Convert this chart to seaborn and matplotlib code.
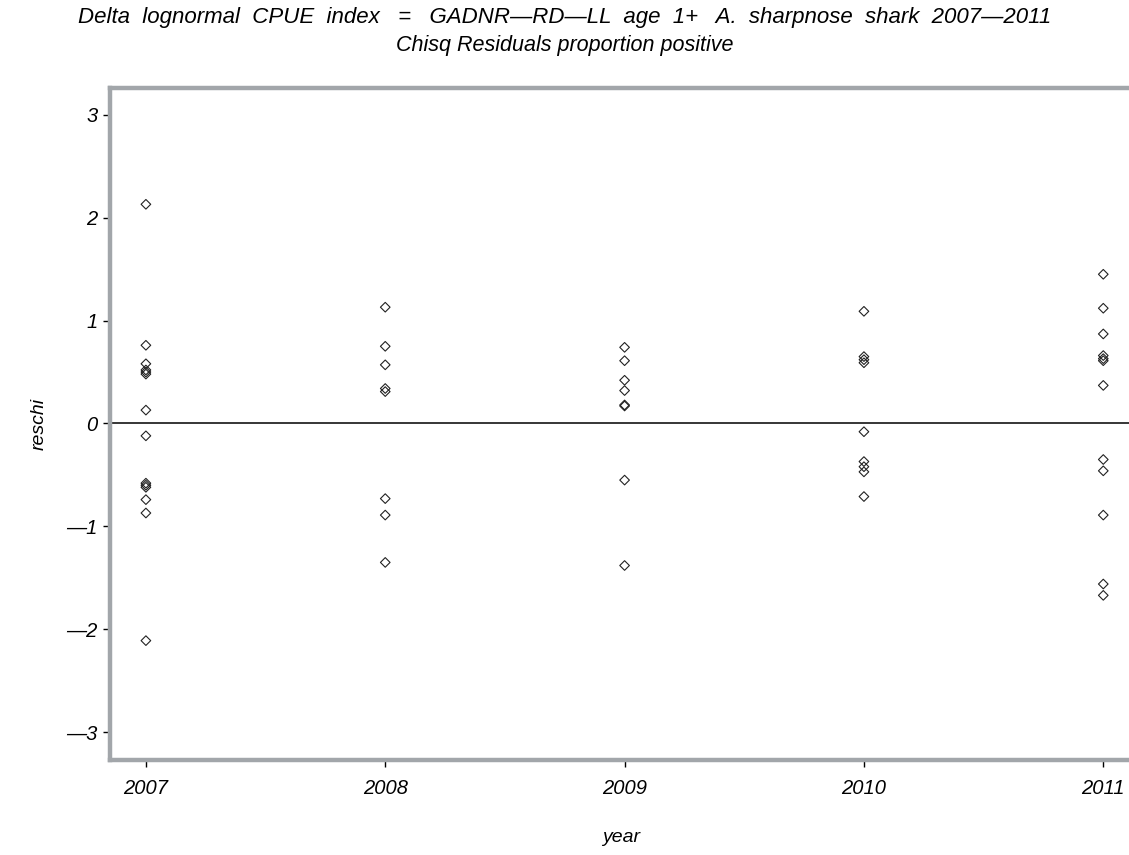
import numpy as np
import pandas as pd
import matplotlib
matplotlib.use("Agg")
import matplotlib.pyplot as plt
import seaborn as sns

years = [2007, 2008, 2009, 2010, 2011]
res_2007 = [2.13, 0.76, 0.58, 0.52, 0.50, 0.48, 0.13, -0.12, -0.58, -0.60, -0.62, -0.74, -0.87, -2.11]
res_2008 = [1.13, 0.75, 0.57, 0.34, 0.31, -0.73, -0.89, -1.35]
res_2009 = [0.74, 0.61, 0.42, 0.32, 0.18, 0.17, -0.55, -1.38]
res_2010 = [1.09, 0.65, 0.62, 0.59, -0.08, -0.37, -0.42, -0.47, -0.71]
res_2011 = [1.45, 1.12, 0.87, 0.66, 0.63, 0.61, 0.37, -0.35, -0.46, -0.89, -1.56, -1.67]
y_ticks = [-3, -2, -1, 0, 1, 2, 3]

all_res = [res_2007, res_2008, res_2009, res_2010, res_2011]
df = pd.DataFrame({
    "year": np.concatenate([[yr] * len(r) for yr, r in zip(years, all_res)]),
    "reschi": np.concatenate(all_res),
})

sns.set_theme(style="white")
plt.rcParams['font.family'] = ['Liberation Sans', 'DejaVu Sans']
plt.rcParams['text.color'] = 'black'
plt.rcParams['axes.labelcolor'] = 'black'
plt.rcParams['xtick.color'] = 'black'
plt.rcParams['ytick.color'] = 'black'

fig = plt.figure(figsize=(11.29, 8.55), dpi=100)
ax = fig.add_axes([110 / 1129, 95 / 855, 1022 / 1129, 672 / 855])

sns.scatterplot(data=df, x="year", y="reschi", ax=ax, marker="D", s=24,
                facecolor="none", edgecolor="#222222", linewidth=0.8, legend=False)
ax.axhline(0, color="black", linewidth=1.1, zorder=1)

ax.set_xlim(2006.85, 2011.12)
ax.set_ylim(-3.27, 3.26)
ax.set_xticks(years)
ax.set_xticklabels([str(y) for y in years])
ax.set_yticks(y_ticks)
ax.set_yticklabels([str(t).replace('-', '\u2014') for t in y_ticks])

for side in ["left", "bottom", "top", "right"]:
    ax.spines[side].set_visible(True)
    ax.spines[side].set_color("#a2a6aa")
    ax.spines[side].set_linewidth(3.2)

ax.tick_params(axis="both", which="major", direction="out", length=5, width=1,
               color="black", labelcolor="black", labelsize=14.5,
               bottom=True, left=True)
ax.tick_params(axis="x", pad=9)
ax.tick_params(axis="y", pad=4)
for lbl in ax.get_xticklabels() + ax.get_yticklabels():
    lbl.set_fontstyle("italic")

ax.set_xlabel("year", fontsize=14, fontstyle="italic", labelpad=22)
ax.set_ylabel("reschi", fontsize=14, fontstyle="italic", labelpad=13)

fig.text(0.5, 1 - 18 / 855,
         "Delta  lognormal  CPUE  index   =   GADNR\u2014RD\u2014LL  age  1+   A.  sharpnose  shark  2007\u20142011",
         ha="center", va="center", fontsize=16, fontstyle="italic")
fig.text(0.5, 1 - 46 / 855, "Chisq Residuals proportion positive",
         ha="center", va="center", fontsize=15.5, fontstyle="italic")

fig.savefig("out.png", dpi=100)
